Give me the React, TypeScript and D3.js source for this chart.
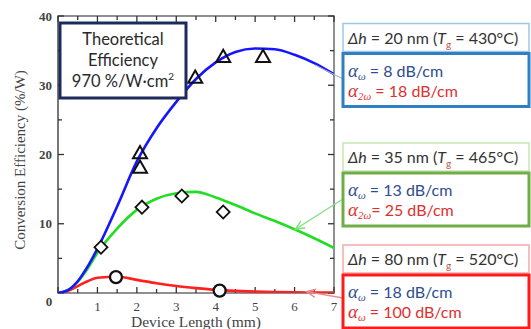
import React from "react";
import * as d3 from "d3";

const xTicks = [0, 1, 2, 3, 4, 5, 6, 7];
const yTicks = [0, 10, 20, 30, 40];

const curveX = [0, 0.25, 0.5, 0.75, 1, 1.5, 2, 2.5, 3, 3.5, 4, 4.5, 5, 5.5, 6, 6.5, 7];
const blueY = [0, 0.4, 1.7, 3.8, 6.4, 12.5, 19, 23.8, 27.6, 30.9, 33.3, 34.8, 35.3, 35.2, 34.4, 33.2, 31.6];
const greenY = [0, 0.4, 1.6, 3.5, 5.8, 9.3, 12, 13.6, 14.4, 14.6, 13.8, 12.7, 11.5, 10.4, 9.2, 7.9, 6.5];
const redY = [0, 0.3, 1.0, 1.7, 2.2, 2.35, 1.9, 1.4, 1.0, 0.7, 0.45, 0.3, 0.2, 0.14, 0.1, 0.07, 0.05];

const triX = [2.08, 2.08, 3.48, 4.19, 5.2];
const triY = [20.2, 18.1, 31.1, 34.1, 34.1];
const diaX = [1.09, 2.13, 3.14, 4.19];
const diaY = [6.6, 12.4, 14.0, 11.7];
const cirX = [1.47, 4.1];
const cirY = [2.3, 0.35];

const theoryLines = ["Theoretical", "Efficiency", "970 %/W·cm"];

const headerDh = ["20", "35", "80"];
const headerTg = ["430", "465", "520"];
const alphaW = ["8", "13", "18"];
const alpha2W = ["18", "25", "100"];
const alpha2Sub = ["2ω", "2ω", "ω"];
const alpha2Eq = [" = ", "= ", " = "];
const lightCols = ["#9cc7ea", "#c3e6b0", "#f6a9a9"];
const darkCols = ["#2f7fc1", "#70ad47", "#ff1a1a"];
const boxTops = [23.5, 143, 245];

export default function App() {
  const x = d3.scaleLinear().domain([0, 7]).range([58, 334]);
  const y = d3.scaleLinear().domain([0, 40]).range([293, 16]);
  const line = d3
    .line<number>()
    .x((_, i) => x(curveX[i]))
    .y((d) => y(d))
    .curve(d3.curveMonotoneX);

  const minorX = d3.range(0, 7.01, 0.5);
  const minorY = d3.range(0, 40.1, 5);
  const axisCol = "#555";
  const serif = "'Liberation Serif', 'Times New Roman', serif";
  const sans = "Lato, 'Open Sans', sans-serif";
  const blueText = "#2e4d8f";
  const redText = "#e02f2f";

  const tri = d3.symbol().type(d3.symbolTriangle).size(85)();
  const dia = d3.symbol().type(d3.symbolSquare).size(85)();

  return (
    <svg
      width={531}
      height={329}
      style={{ position: "absolute", left: 0, top: 0, background: "#fff" }}
    >
      <defs>
        <clipPath id="plot">
          <rect x={58} y={16} width={276} height={277} />
        </clipPath>
        <marker id="ag" viewBox="0 0 10 10" refX="9" refY="5" markerWidth="8" markerHeight="8" orient="auto">
          <path d="M0,1 L9,5 L0,9" fill="none" stroke="#7ee07e" strokeWidth="1.3" />
        </marker>
        <marker id="ar" viewBox="0 0 10 10" refX="9" refY="5" markerWidth="8" markerHeight="8" orient="auto">
          <path d="M0,1 L9,5 L0,9" fill="none" stroke="#f08a8a" strokeWidth="1.3" />
        </marker>
      </defs>

      {/* frame */}
      <rect x={58} y={16} width={276} height={277} fill="none" stroke={axisCol} strokeWidth={1.3} />
      <line x1={58} x2={58} y1={16} y2={293} stroke="#777" strokeWidth={2} />

      {/* ticks */}
      {minorX.map((v) => {
        const major = Math.abs(v - Math.round(v)) < 1e-6;
        const len = major ? 6 : 4;
        return (
          <g key={"xt" + v}>
            <line x1={x(v)} x2={x(v)} y1={293} y2={293 - len} stroke="#333" strokeWidth={1.3} />
            <line x1={x(v)} x2={x(v)} y1={16} y2={16 + len} stroke="#333" strokeWidth={1.3} />
          </g>
        );
      })}
      {minorY.map((v) => {
        const major = v % 10 === 0;
        const len = major ? 6 : 4;
        return (
          <g key={"yt" + v}>
            <line x1={58} x2={58 + len} y1={y(v)} y2={y(v)} stroke="#333" strokeWidth={1.3} />
            <line x1={334} x2={334 - len} y1={y(v)} y2={y(v)} stroke="#333" strokeWidth={1.3} />
          </g>
        );
      })}

      {/* tick labels */}
      {xTicks.slice(1).map((v) => (
        <text key={"xl" + v} x={x(v)} y={311} textAnchor="middle" fontFamily={serif} fontSize={13} fill="#444">
          {v}
        </text>
      ))}
      {yTicks.slice(1).map((v) => (
        <text key={"yl" + v} x={52} y={y(v) + 4.5} textAnchor="end" fontFamily={serif} fontSize={13} fill="#444" fontWeight={600}>
          {v}
        </text>
      ))}
      <text x={49} y={306} textAnchor="middle" fontFamily={serif} fontSize={13} fill="#444" fontWeight={600}>
        0
      </text>

      {/* axis titles */}
      <text x={196} y={327} textAnchor="middle" fontFamily={serif} fontSize={15.5} fill="#444">
        Device Length (mm)
      </text>
      <text
        transform="translate(25,160) rotate(-90)"
        textAnchor="middle"
        fontFamily={serif}
        fontSize={15}
        fill="#444"
      >
        Conversion Efficiency (%/W)
      </text>

      {/* curves */}
      <g clipPath="url(#plot)" fill="none" strokeWidth={2.6}>
        <path d={line(redY) || ""} stroke="#ff2020" />
        <path d={line(greenY) || ""} stroke="#22dd22" />
        <path d={line(blueY) || ""} stroke="#1515ff" />
      </g>

      {/* markers */}
      {triX.map((v, i) => (
        <path key={"tr" + i} d={tri || ""} transform={`translate(${x(v)},${y(triY[i]) + 1})`} fill="none" stroke="#111" strokeWidth={2} />
      ))}
      {diaX.map((v, i) => (
        <path key={"di" + i} d={dia || ""} transform={`translate(${x(v)},${y(diaY[i])}) rotate(45)`} fill="#fff" stroke="#111" strokeWidth={1.8} />
      ))}
      {cirX.map((v, i) => (
        <circle key={"ci" + i} cx={x(v)} cy={y(cirY[i])} r={6} fill="#fff" stroke="#111" strokeWidth={2.3} />
      ))}

      {/* theoretical box */}
      <rect x={60} y={23} width={126} height={75} fill="#fff" stroke="#1d2b5c" strokeWidth={3} />
      {theoryLines.map((t, i) => (
        <text key={"th" + i} x={123} y={45 + i * 21} textAnchor="middle" fontFamily={sans} fontSize={16.5} fill="#2a2a2a">
          {t}
          {i === 2 ? (
            <tspan fontSize={10} dy={-7}>
              2
            </tspan>
          ) : null}
        </text>
      ))}

      {/* connectors */}
      <line x1={315} y1={65} x2={343} y2={79} stroke="#a9b7c6" strokeWidth={1.2} />
      <line x1={343} y1={199} x2={x(6.02)} y2={y(9.2)} stroke="#7ee07e" strokeWidth={1.3} markerEnd="url(#ag)" />
      <line x1={343} y1={298} x2={x(6.3)} y2={y(0.2)} stroke="#f08a8a" strokeWidth={1.3} markerEnd="url(#ar)" />

      {/* annotation boxes */}
      {headerDh.map((dh, i) => {
        const top = boxTops[i];
        return (
          <g key={"box" + i}>
            <rect x={343} y={top} width={186} height={28} fill="#fff" stroke={lightCols[i]} strokeWidth={1.5} />
            <rect x={343} y={top + 30} width={186} height={53} fill="#fff" stroke={darkCols[i]} strokeWidth={3} />
            <text x={348} y={top + 20} fontFamily={sans} fontSize={16} fill="#333">
              <tspan fontStyle="italic">Δh</tspan>
              {` = ${dh} nm (`}
              <tspan fontStyle="italic">T</tspan>
              <tspan fontSize={10} dy={4} fill="#c0504d">g</tspan>
              <tspan dy={-4}>{` = ${headerTg[i]}°C)`}</tspan>
            </text>
            <text x={348} y={top + 53} fontFamily={sans} fontSize={16} fill={blueText}>
              <tspan fontFamily={serif} fontStyle="italic" fontSize={19}>α</tspan>
              <tspan fontFamily={serif} fontStyle="italic" fontSize={11} dy={3}>ω</tspan>
              <tspan dy={-3}>{`  = ${alphaW[i]} dB/cm`}</tspan>
            </text>
            <text x={348} y={top + 73} fontFamily={sans} fontSize={16} fill={redText}>
              <tspan fontFamily={serif} fontStyle="italic" fontSize={19}>α</tspan>
              <tspan fontFamily={serif} fontStyle="italic" fontSize={11} dy={3}>{alpha2Sub[i]}</tspan>
              <tspan dy={-3}>{`${alpha2Sub[i] === "ω" ? " " : ""}${alpha2Eq[i]}${alpha2W[i]} dB/cm`}</tspan>
            </text>
          </g>
        );
      })}
    </svg>
  );
}
